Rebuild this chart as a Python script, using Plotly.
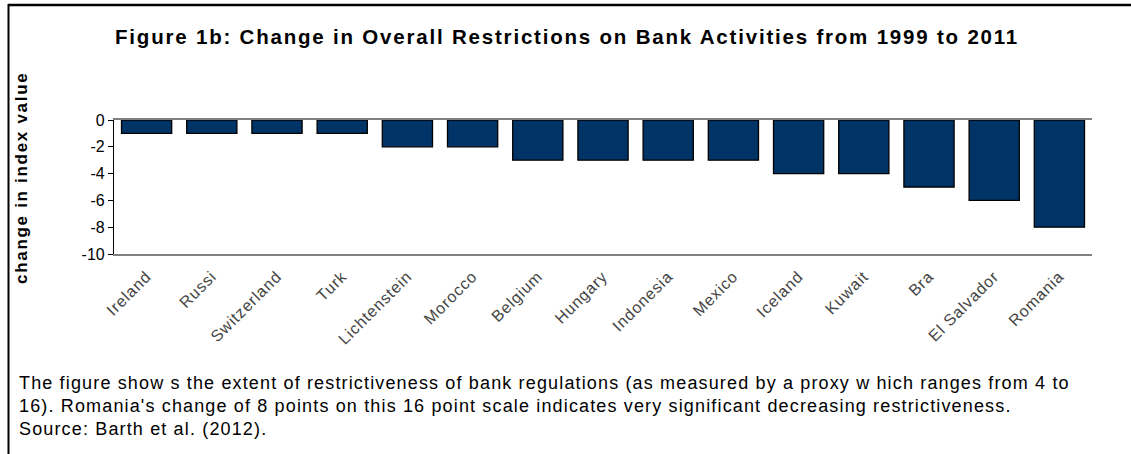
import plotly.graph_objects as go

countries = ["Ireland", "Russi", "Switzerland", "Turk", "Lichtenstein", "Morocco",
             "Belgium", "Hungary", "Indonesia", "Mexico", "Iceland", "Kuwait",
             "Bra", "El Salvador", "Romania"]
changes = [-1, -1, -1, -1, -2, -2, -3, -3, -3, -3, -4, -4, -5, -6, -8]
y_ticks = [0, -2, -4, -6, -8, -10]

title_text = "Figure 1b: Change in Overall Restrictions on Bank Activities from 1999 to 2011"
ytitle_text = "change in index value"
caption_lines = [
    "The figure show s the extent of restrictiveness of bank regulations (as measured by a proxy w hich ranges from 4 to",
    "16). Romania's change of 8 points on this 16 point scale indicates very significant decreasing restrictiveness.",
    "Source: Barth et al. (2012).",
]

W, H = 1131, 454
L, R, T, B = 114, 1092, 120, 254


def px(x):
    return (x - L) / (R - L)


def py(y):
    return (B - y) / (B - T)


def spaced(s, ls):
    return f'<span style="letter-spacing:{ls}px">{s}</span>'


fig = go.Figure()
fig.add_trace(go.Bar(
    x=countries, y=changes,
    marker=dict(color="#003366", line=dict(color="#000000", width=1.3)),
    width=0.77,
))

font = "Liberation Sans, Arial, sans-serif"

fig.update_layout(
    width=W, height=H,
    margin=dict(l=L, r=W - R, t=T, b=H - B),
    paper_bgcolor="white", plot_bgcolor="white",
    showlegend=False,
    font=dict(family=font, color="#000000"),
    xaxis=dict(
        tickangle=-45, tickfont=dict(size=16, color="#444444"),
        tickvals=countries, ticktext=[spaced(c, 0.9) for c in countries],
        showgrid=False, showline=True, linecolor="#808080", linewidth=1.5,
        mirror=True, ticks="", zeroline=False, ticklabelstandoff=5,
    ),
    yaxis=dict(
        range=[-10, 0], tickvals=y_ticks, ticktext=[str(v) for v in y_ticks],
        tickfont=dict(size=16), showgrid=False, zeroline=False,
        showline=True, linecolor="#000000", linewidth=1.2,
        ticks="outside", ticklen=5, tickcolor="#000000",
    ),
    annotations=[
        dict(text="<b>" + spaced(title_text, 1.8) + "</b>",
             x=px(567), y=py(36), xref="paper", yref="paper", showarrow=False,
             xanchor="center", yanchor="middle", font=dict(size=20.5)),
        dict(text="<b>" + spaced(ytitle_text, 1.7) + "</b>",
             x=px(21), y=py(178), xref="paper", yref="paper", showarrow=False,
             textangle=-90, xanchor="center", yanchor="middle", font=dict(size=17)),
    ] + [
        dict(text=spaced(line, 1.15),
             x=px(17), y=py(383 + 23 * i), xref="paper", yref="paper", showarrow=False,
             xanchor="left", yanchor="middle", font=dict(size=18))
        for i, line in enumerate(caption_lines)
    ],
    shapes=[
        dict(type="line", xref="paper", yref="paper",
             x0=px(8), x1=px(1131), y0=py(5), y1=py(5),
             line=dict(color="#000000", width=2.5)),
        dict(type="line", xref="paper", yref="paper",
             x0=px(8.5), x1=px(8.5), y0=py(4), y1=py(454),
             line=dict(color="#000000", width=2)),
    ],
)

fig.write_html("out.html", config={"displayModeBar": False},
               post_script="document.body.style.margin='0';")
